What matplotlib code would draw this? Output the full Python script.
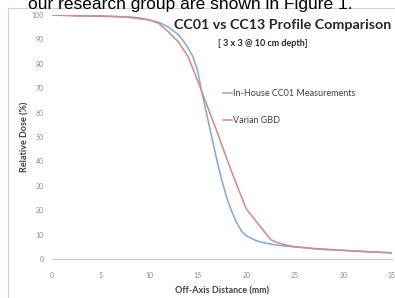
import matplotlib.pyplot as plt
from matplotlib.lines import Line2D

# off-axis distance (mm) and relative dose (%)
inhouse_x = [0, 2, 4, 6, 8, 9, 10, 11, 12, 13, 13.5, 14, 14.5, 15, 15.5, 16, 16.5,
             17, 17.5, 18, 18.5, 19, 19.5, 20, 21, 22, 23, 24, 25, 27, 29, 31, 33, 35]
inhouse_y = [100, 99.9, 99.7, 99.5, 99.2, 98.8, 98, 97, 95, 92, 89.5, 86.5, 83, 77,
             67, 58, 49, 40, 32, 25, 19.5, 15, 11.5, 9.5, 7.5, 6.5, 5.8, 5.3, 5,
             4.3, 3.8, 3.3, 2.9, 2.5]

varian_x = [0, 2.5, 5, 7.5, 10, 11, 12, 12.5, 13, 14, 15, 16, 17, 18, 19, 20, 21,
            22, 22.5, 23, 24, 25, 27.5, 30, 32.5, 35]
varian_y = [100, 99.6, 99.5, 99.2, 98, 96.5, 93, 91, 89, 83, 73, 62.5, 52, 41,
            30.5, 20.5, 15.5, 10.5, 8, 7, 5.8, 5, 4, 3.5, 3, 2.5]

x_ticks = [0, 5, 10, 15, 20, 25, 30, 35]
y_ticks = [0, 10, 20, 30, 40, 50, 60, 70, 80, 90, 100]

font = 'Lato'
grey = '#8c8c8c'

fig = plt.figure(figsize=(3.95, 2.98), dpi=100)
ax = fig.add_axes([52 / 395, 39 / 298, 340 / 395, 244 / 298])

ax.plot(inhouse_x, inhouse_y, color='#85aad8', lw=1.15, label='In-House CC01 Measurements')
ax.plot(varian_x, varian_y, color='#d58a8b', lw=1.15, label='Varian GBD')

ax.set_xlim(0, 35)
ax.set_ylim(0, 100)
ax.set_xticks(x_ticks)
ax.set_yticks(y_ticks)
for s in ['left', 'top', 'right']:
    ax.spines[s].set_visible(False)
ax.spines['bottom'].set_color('#c8c8c8')
ax.spines['bottom'].set_linewidth(0.8)
ax.tick_params(axis='both', length=0, labelsize=5, labelcolor=grey)
ax.tick_params(axis='x', pad=9)
ax.tick_params(axis='y', pad=6)
for lab in ax.get_xticklabels() + ax.get_yticklabels():
    lab.set_family(font)

ax.set_xlabel('Off-Axis Distance (mm)', fontsize=6.5, fontweight='bold',
              family=font, color='#404040', labelpad=6)
ax.set_ylabel('Relative Dose (%)', fontsize=6.5, fontweight='bold',
              family=font, color='#404040', labelpad=1)

leg = ax.legend(loc='upper left', bbox_to_anchor=(0.503, 0.698), frameon=False,
                handlelength=1.0, handletextpad=0.15, labelspacing=2.0,
                borderpad=0, borderaxespad=0,
                prop={'family': font, 'size': 6.5})
for t in leg.get_texts():
    t.set_color('#404040')

fig.text(283 / 395, 1 - 25 / 298, 'CC01 vs CC13 Profile Comparison', ha='center',
         va='center', fontsize=10.3, fontweight='bold', family=font, color='#262626')
fig.text(263 / 395, 1 - 43 / 298, '[ 3 x 3 @ 10 cm depth]', ha='center',
         va='center', fontsize=6.5, fontweight='bold', family=font, color='#262626')

# chart border from the document page
fig.add_artist(Line2D([8 / 395, 8 / 395], [0, 1 - 8 / 298], color='#d0d0d0', lw=0.8))
fig.add_artist(Line2D([8 / 395, 1], [1 - 8 / 298, 1 - 8 / 298], color='#d0d0d0', lw=0.8))

# document text above the chart
fig.text(28 / 395, 1 - 9 / 298, 'our research group are shown in Figure 1.',
         ha='left', va='baseline', fontsize=12.5, family='Liberation Sans', color='black')

fig.savefig('out.png', dpi=100)
